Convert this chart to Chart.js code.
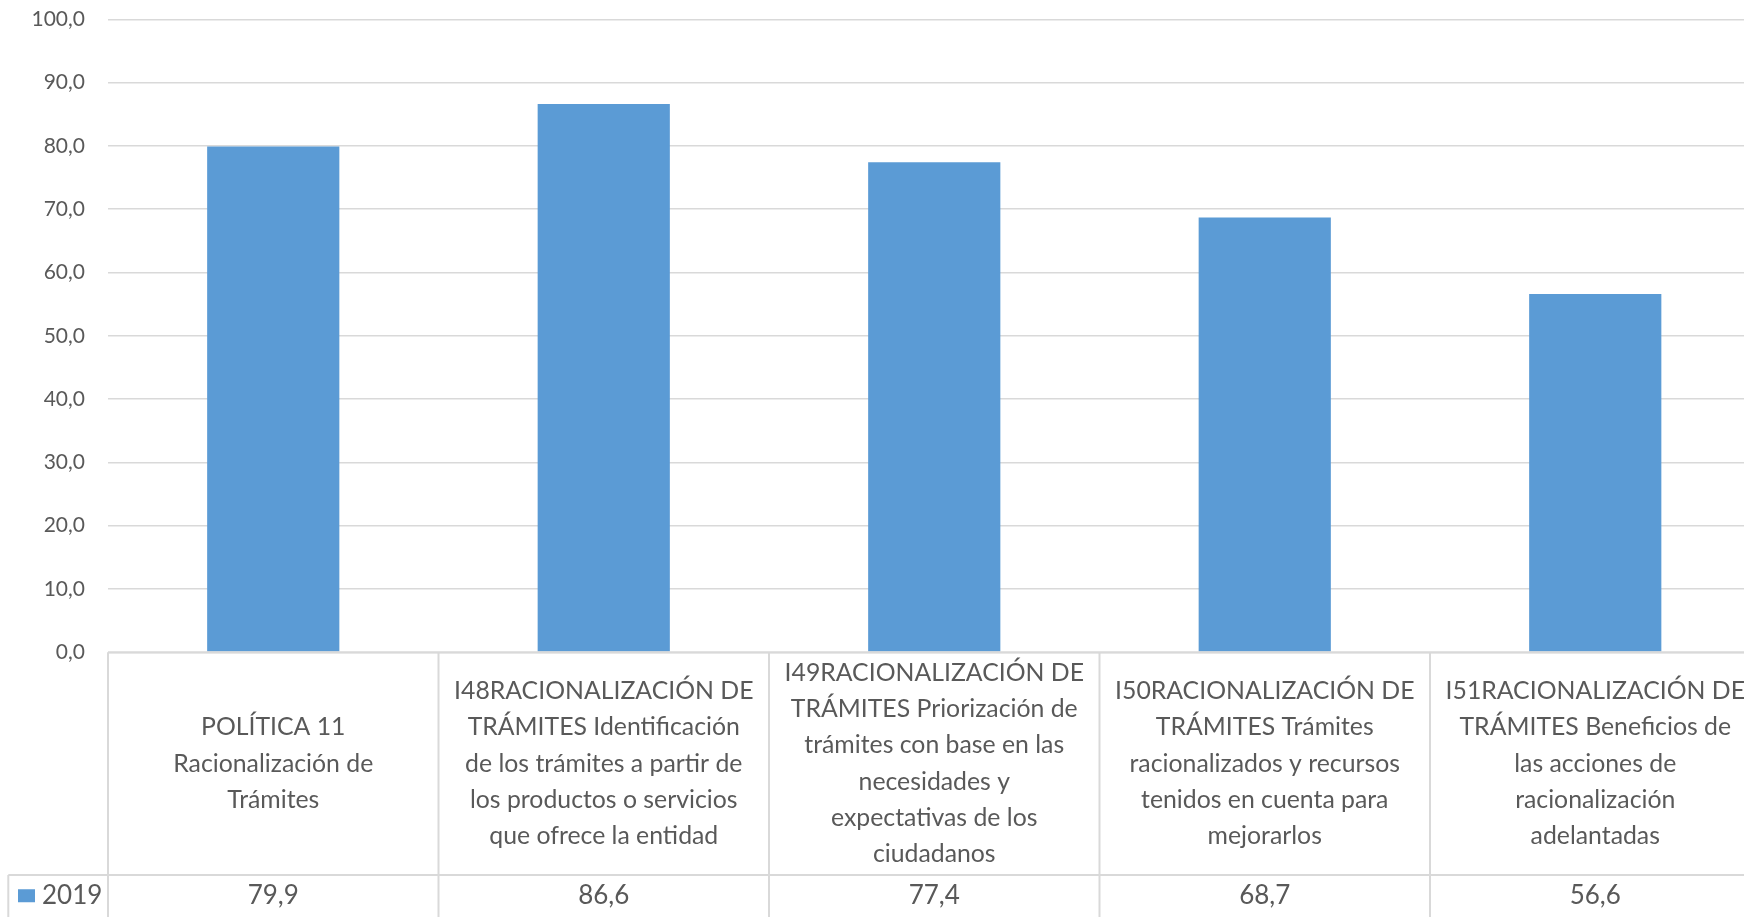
<!DOCTYPE html>
<html>
<head>
<meta charset="utf-8">
<script src="https://cdn.jsdelivr.net/npm/chart.js@4.4.1/dist/chart.umd.min.js"></script>
<style>
  html, body { margin: 0; padding: 0; overflow: hidden; background: #ffffff; }
  #wrap { position: absolute; left: 0; top: 0; }
</style>
</head>
<body>
<div id="wrap"><canvas id="c" width="1780" height="925"></canvas></div>
<script>
// ---- data ----
const categories = [
  ["POLÍTICA 11", "Racionalización de", "Trámites"],
  ["I48RACIONALIZACIÓN DE", "TRÁMITES Identificación", "de los trámites a partir de", "los productos o servicios", "que ofrece la entidad"],
  ["I49RACIONALIZACIÓN DE", "TRÁMITES Priorización de", "trámites con base en las", "necesidades y", "expectativas de los", "ciudadanos"],
  ["I50RACIONALIZACIÓN DE", "TRÁMITES Trámites", "racionalizados y recursos", "tenidos en cuenta para", "mejorarlos"],
  ["I51RACIONALIZACIÓN DE", "TRÁMITES Beneficios de", "las acciones de", "racionalización", "adelantadas"]
];
const seriesName = "2019";
const values2019 = [79.9, 86.6, 77.4, 68.7, 56.6];
const yTicks = [0, 10, 20, 30, 40, 50, 60, 70, 80, 90, 100];

// ---- styles ----
const FONT = "Lato, 'Open Sans', sans-serif";
const TEXT = "#595959";
const GRID = "#D9D9D9";
const BAR = "#5B9BD5";
const fmt = v => v.toFixed(1).replace(".", ",");

const tablePlugin = {
  id: "dataTable",
  afterDraw(chart) {
    const ctx = chart.ctx;
    const x = chart.scales.x;
    const top = x.top;
    const headerBottom = top + 222.7;
    const rowBottom = headerBottom + 43.5;
    const legendLeft = 8.3;
    const n = categories.length;
    ctx.save();
    ctx.strokeStyle = GRID;
    ctx.lineWidth = 2;
    ctx.beginPath();
    ctx.moveTo(x.getPixelForValue(-0.5), top);
    ctx.lineTo(x.getPixelForValue(n - 0.5), top);
    ctx.moveTo(legendLeft, headerBottom);
    ctx.lineTo(x.getPixelForValue(n - 0.5), headerBottom);
    ctx.moveTo(legendLeft, rowBottom);
    ctx.lineTo(x.getPixelForValue(n - 0.5), rowBottom);
    for (let i = 0; i <= n; i++) {
      const px = x.getPixelForValue(i - 0.5);
      ctx.moveTo(px, top);
      ctx.lineTo(px, rowBottom);
    }
    ctx.moveTo(legendLeft, headerBottom);
    ctx.lineTo(legendLeft, rowBottom);
    ctx.stroke();

    // header labels
    ctx.fillStyle = TEXT;
    ctx.textAlign = "center";
    ctx.textBaseline = "middle";
    ctx.font = "24.8px " + FONT;
    const lh = 36.3;
    const midY = (top + headerBottom) / 2;
    categories.forEach((lines, i) => {
      const cx = x.getPixelForValue(i);
      const startY = midY - (lines.length - 1) * lh / 2;
      lines.forEach((t, k) => ctx.fillText(t, cx, startY + k * lh));
    });
    // values row
    ctx.font = "26px " + FONT;
    const valY = (headerBottom + rowBottom) / 2 - 1;
    values2019.forEach((v, i) => {
      ctx.fillText(fmt(v), x.getPixelForValue(i), valY);
    });
    // legend key
    ctx.fillStyle = BAR;
    ctx.fillRect(18, valY - 6.5, 17, 13);
    ctx.fillStyle = TEXT;
    ctx.textAlign = "left";
    ctx.fillText(seriesName, 42, valY);
    ctx.restore();
  }
};

new Chart(document.getElementById("c"), {
  type: "bar",
  data: {
    labels: categories,
    datasets: [{
      label: seriesName,
      data: values2019,
      backgroundColor: BAR,
      borderWidth: 0,
      categoryPercentage: 1.0,
      barPercentage: 0.4
    }]
  },
  options: {
    responsive: false,
    animation: false,
    devicePixelRatio: 1,
    layout: { padding: { left: 0, right: 19.5, top: 19.3, bottom: 6 } },
    plugins: { legend: { display: false }, tooltip: { enabled: false } },
    scales: {
      x: {
        display: true,
        grid: { display: false },
        border: { display: false },
        ticks: { display: false },
        afterFit(scale) { scale.height = 266.7; }
      },
      y: {
        min: 0,
        max: 100,
        afterBuildTicks(scale) { scale.ticks = yTicks.map(v => ({ value: v })); },
        ticks: {
          callback: v => fmt(v),
          color: TEXT,
          font: { family: FONT, size: 21 },
          padding: 23
        },
        grid: { color: GRID, lineWidth: 1.5, drawTicks: false },
        border: { display: false },
        afterFit(scale) { scale.width = 108; scale.paddingTop = 0; scale.paddingBottom = 0; }
      }
    }
  },
  plugins: [tablePlugin]
});
</script>
</body>
</html>
